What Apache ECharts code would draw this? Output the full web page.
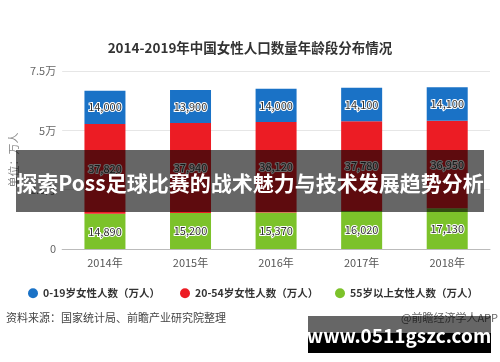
<!DOCTYPE html>
<html>
<head>
<meta charset="utf-8">
<script src="https://cdn.jsdelivr.net/npm/echarts@6/dist/echarts.min.js"></script>
<style>html,body{margin:0;padding:0;background:#fff;}#c{width:500px;height:362px;}</style>
</head>
<body>
<div id="c"></div>
<script>
var categories = ['2014年', '2015年', '2016年', '2017年', '2018年'];
var age0to19 = [14000, 13900, 14000, 14100, 14100];
var age20to54 = [37820, 37940, 38120, 37780, 36950];
var age55plus = [14890, 15200, 15370, 16020, 17130];
var seriesNames = ['0-19岁女性人数（万人）', '20-54岁女性人数（万人）', '55岁以上女性人数（万人）'];
var yTicks = [0, 25000, 50000, 75000];
var yTickLabels = ['0', '2.5万', '5万', '7.5万'];

var FONT = '"Noto Sans CJK SC", "Microsoft YaHei", sans-serif';
var chart = echarts.init(document.getElementById('c'), null, {renderer: 'canvas'});
function fmt(p) { return p.value.toLocaleString('en-US'); }
var labelStyle = {
  show: true, position: 'inside', formatter: fmt,
  color: '#333', fontSize: 11, fontFamily: FONT,
  textBorderColor: '#fff', textBorderWidth: 2
};
var legendBase = {
  top: 283, itemWidth: 10, itemHeight: 10, icon: 'circle',
  textStyle: {fontSize: 10.5, color: '#333', fontWeight: 'bold', fontFamily: FONT}
};
var option = {
  backgroundColor: '#fff',
  animation: false,
  title: {
    text: '2014-2019年中国女性人口数量年龄段分布情况',
    left: 'center', top: 36,
    textStyle: {fontSize: 13.5, fontWeight: 'bold', color: '#333', fontFamily: FONT}
  },
  legend: [
    Object.assign({left: 23, data: [seriesNames[0]]}, legendBase),
    Object.assign({left: 175, data: [seriesNames[1]]}, legendBase),
    Object.assign({left: 330, data: [seriesNames[2]]}, legendBase)
  ],
  grid: {left: 62, right: 10, top: 71, bottom: 113},
  xAxis: {
    type: 'category', data: categories,
    axisLine: {lineStyle: {color: '#bbb'}},
    axisTick: {alignWithLabel: true, length: 4, lineStyle: {color: '#bbb'}},
    axisLabel: {color: '#555', fontSize: 11, fontFamily: FONT, margin: 8}
  },
  yAxis: {
    type: 'value', min: 0, max: 75000, interval: 25000,
    name: '单位：万人', nameLocation: 'middle', nameGap: 40, nameRotate: 90,
    nameTextStyle: {color: '#888', fontSize: 11, fontFamily: FONT},
    axisLine: {show: false}, axisTick: {show: false},
    splitLine: {lineStyle: {color: '#e6e6e6'}},
    axisLabel: {
      color: '#666', fontSize: 11, fontFamily: FONT, margin: 6,
      formatter: function (v) { var i = yTicks.indexOf(v); return i >= 0 ? yTickLabels[i] : ''; }
    }
  },
  series: [
    {name: seriesNames[2], type: 'bar', stack: 't', data: age55plus, barWidth: 41,
     itemStyle: {color: '#7cc22a'}, label: labelStyle},
    {name: seriesNames[1], type: 'bar', stack: 't', data: age20to54, barWidth: 41,
     itemStyle: {color: '#ec1c24'}, label: labelStyle},
    {name: seriesNames[0], type: 'bar', stack: 't', data: age0to19, barWidth: 41,
     itemStyle: {color: '#1a72c6'}, label: labelStyle}
  ],
  color: ['#1a72c6', '#ec1c24', '#7cc22a'],
  graphic: [
    {type: 'text', left: 6, top: 312, z: 10,
     style: {text: '资料来源：国家统计局、前瞻产业研究院整理', fill: '#444', font: '11px ' + FONT}},
    {type: 'text', right: 2, top: 312, z: 10,
     style: {text: '@前瞻经济学人APP', fill: '#666', font: '11px ' + FONT}},
    {type: 'rect', shape: {x: 16, y: 150, width: 468, height: 62}, z: 100,
     style: {fill: 'rgba(0,0,0,0.6)'}},
    {type: 'text', x: 250, y: 183, z: 101,
     style: {text: '探索Poss足球比赛的战术魅力与技术发展趋势分析', fill: '#fff',
             font: 'bold 21px ' + FONT, textAlign: 'center', textVerticalAlign: 'middle'}},
    {type: 'rect', shape: {x: 308, y: 316, width: 183, height: 17}, z: 100,
     style: {fill: 'rgba(0,0,0,0.6)'}},
    {type: 'rect', shape: {x: 308, y: 333, width: 183, height: 20}, z: 100,
     style: {fill: '#000'}},
    {type: 'text', x: 399, y: 336, z: 101,
     style: {text: 'www.0511gszc.com', fill: '#fff',
             font: 'bold 19px ' + FONT, textAlign: 'center', textVerticalAlign: 'middle'}}
  ]
};
chart.setOption(option);
</script>
</body>
</html>
